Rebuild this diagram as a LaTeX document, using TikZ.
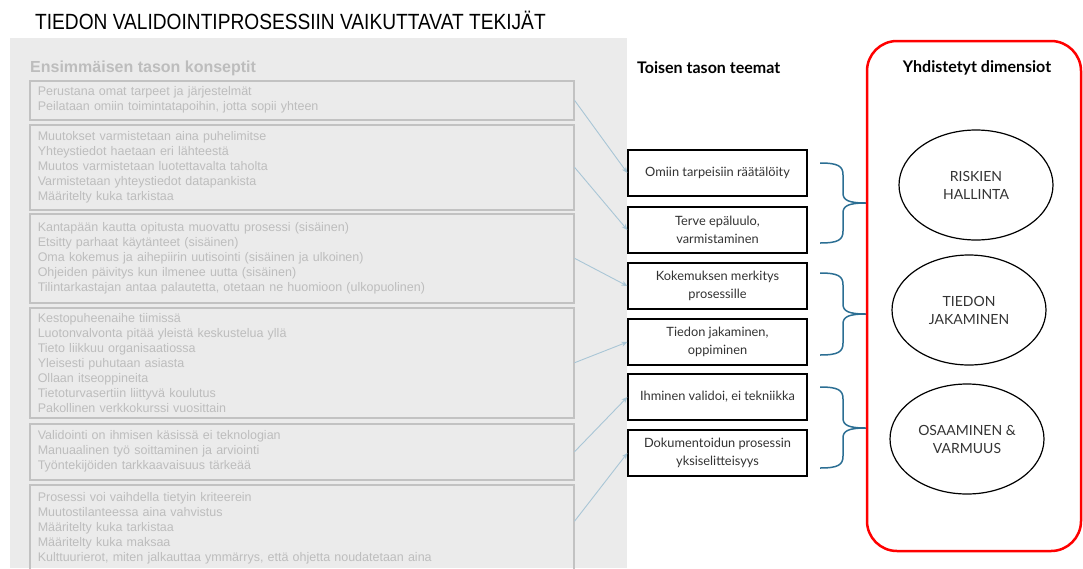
\documentclass[tikz,border=0pt]{standalone}
\usepackage{fontspec}
\setmainfont{Lato}
\newfontfamily\titlefont[FakeStretch=0.87]{Liberation Sans}
\newfontfamily\conceptfont{Liberation Sans}
\usetikzlibrary{arrows.meta,shapes.geometric}
\definecolor{panelgray}{HTML}{EBEBEB}
\definecolor{conceptline}{HTML}{C2C2C2}
\definecolor{concepttext}{HTML}{BDBDBD}
\definecolor{linkblue}{HTML}{A9C6D6}
\definecolor{braceblue}{HTML}{2B6E93}
\definecolor{framered}{HTML}{FF0000}
\definecolor{inktext}{HTML}{333333}

\tikzset{
  conceptbox/.style={draw=conceptline, line width=1.5pt, anchor=north west,
    text width=528pt, inner xsep=8pt, inner ysep=0pt, align=left,
    text=concepttext, font=\conceptfont\fontsize{12.5}{15}\selectfont},
  themebox/.style={draw=black, line width=1.2pt, fill=white, minimum width=179pt,
    minimum height=46pt, align=center, text=inktext,
    font=\fontsize{12.8}{18}\selectfont},
  dimension/.style={ellipse, draw=black, line width=1.2pt, minimum width=154pt,
    minimum height=110pt, inner sep=0pt, align=center, text=inktext,
    font=\fontsize{14}{18}\selectfont},
  link/.style={draw=linkblue, line width=0.9pt, -{Stealth[length=6pt,width=5pt]}},
  bracket/.style={draw=braceblue, line width=1.5pt},
  heading/.style={inner sep=0pt, font=\bfseries\fontsize{16}{18}\selectfont},
}

% right-hand curly bracket: top end, tip, bottom end (y values)
\newcommand\themebrace[3]{%
  \draw[bracket] (820,#1) .. controls (838,#1) and (843,#1+3) .. (843,#1+12)
    -- (843,#2-10) .. controls (843,#2-3) and (848,#2) .. (866,#2)
    .. controls (848,#2) and (843,#2+3) .. (843,#2+10)
    -- (843,#3-12) .. controls (843,#3-3) and (838,#3) .. (820,#3);}

\begin{document}
\begin{tikzpicture}[x=1pt, y=-1pt]
\useasboundingbox (0,0) rectangle (1083,568);

% title
\node[anchor=west, inner sep=0pt, font=\titlefont\fontsize{22}{26}\selectfont] (title)
  at (35,20) {TIEDON VALIDOINTIPROSESSIIN VAIKUTTAVAT TEKIJÄT};

% first-level concepts panel
\fill[panelgray] (10,38) rectangle (627,568);
\node[heading, anchor=west, text=concepttext, font=\conceptfont\bfseries\fontsize{16}{18}\selectfont] (h1)
  at (30,68) {Ensimmäisen tason konseptit};

\node[conceptbox, minimum height=39pt] (c1) at (29,80)
  {Perustana omat tarpeet ja järjestelmät\\
   Peilataan omiin toimintatapoihin, jotta sopii yhteen};
\node[conceptbox, minimum height=85pt] (c2) at (29,124)
  {Muutokset varmistetaan aina puhelimitse\\
   Yhteystiedot haetaan eri lähteestä\\
   Muutos varmistetaan luotettavalta taholta\\
   Varmistetaan yhteystiedot datapankista\\
   Määritelty kuka tarkistaa};
\node[conceptbox, minimum height=89pt] (c3) at (29,213)
  {Kantapään kautta opitusta muovattu prosessi (sisäinen)\\
   Etsitty parhaat käytänteet (sisäinen)\\
   Oma kokemus ja aihepiirin uutisointi (sisäinen ja ulkoinen)\\
   Ohjeiden päivitys kun ilmenee uutta (sisäinen)\\
   Tilintarkastajan antaa palautetta, otetaan ne huomioon (ulkopuolinen)};
\node[conceptbox, minimum height=110pt] (c4) at (29,307)
  {Kestopuheenaihe tiimissä\\
   Luotonvalvonta pitää yleistä keskustelua yllä\\
   Tieto liikkuu organisaatiossa\\
   Yleisesti puhutaan asiasta\\
   Ollaan itseoppineita\\
   Tietoturvasertiin liittyvä koulutus\\
   Pakollinen verkkokurssi vuosittain};
\node[conceptbox, minimum height=56pt] (c5) at (29,423)
  {Validointi on ihmisen käsissä ei teknologian\\
   Manuaalinen työ soittaminen ja arviointi\\
   Työntekijöiden tarkkaavaisuus tärkeää};
\node[conceptbox, minimum height=87pt] (c6) at (29,484)
  {Prosessi voi vaihdella tietyin kriteerein\\
   Muutostilanteessa aina vahvistus\\
   Määritelty kuka tarkistaa\\
   Määritelty kuka maksaa\\
   Kulttuurierot, miten jalkauttaa ymmärrys, että ohjetta noudatetaan aina};

% second-level themes
\node[heading, anchor=west] (h2) at (637,68) {Toisen tason teemat};
\node[themebox] (t1) at (717.5,173) {Omiin tarpeisiin räätälöity};
\node[themebox] (t2) at (717.5,230) {Terve epäluulo,\\varmistaminen};
\node[themebox] (t3) at (717.5,286) {Kokemuksen merkitys\\prosessille};
\node[themebox] (t4) at (717.5,342) {Tiedon jakaminen,\\oppiminen};
\node[themebox] (t5) at (717.5,397) {Ihminen validoi, ei tekniikka};
\node[themebox] (t6) at (717.5,453) {Dokumentoidun prosessin\\yksiselitteisyys};

% concept-to-theme links
\draw[link] (c1.east) -- (t1.west);
\draw[link] (c2.east) -- (t2.west);
\draw[link] (c3.east) -- (t3.west);
\draw[link] (c4.east) -- (t4.west);
\draw[link] (c5.east) -- (t5.west);
\draw[link] ([yshift=7pt]c6.east) -- (t6.west);

% brackets grouping theme pairs
\themebrace{163}{203}{243}
\themebrace{273}{314}{355}
\themebrace{387}{428}{468}

% aggregate dimensions
\draw[framered, line width=2.5pt, rounded corners=30pt] (867,41) rectangle (1081,551);
\node[heading] (h3) at (977,68) {Yhdistetyt dimensiot};
\node[dimension] (d1) at (976,185) {RISKIEN\\HALLINTA};
\node[dimension] (d2) at (969,310) {TIEDON\\JAKAMINEN};
\node[dimension] (d3) at (967,439) {OSAAMINEN \&\\VARMUUS};
\end{tikzpicture}
\end{document}
